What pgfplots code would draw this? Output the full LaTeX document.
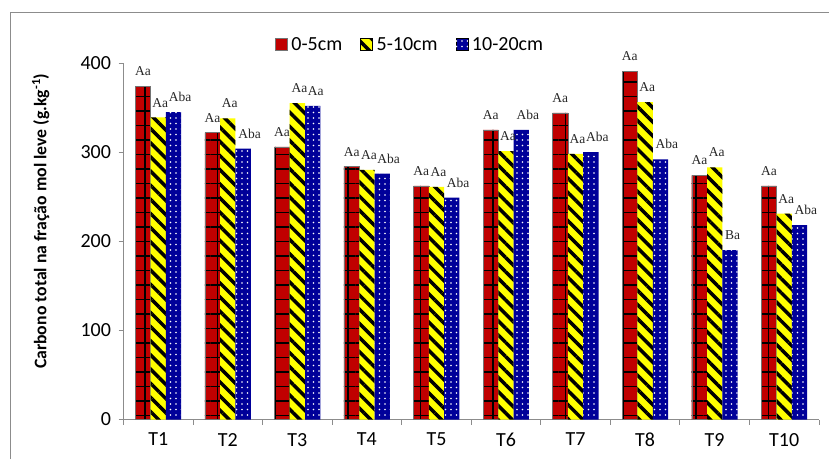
\documentclass[border=0pt]{standalone}
\usepackage{pgfplots}
\pgfplotsset{compat=1.18}
\usepackage{fontspec}
\setmainfont{Carlito}
\newfontfamily\serif{Liberation Serif}
\usetikzlibrary{patterns.meta}

\definecolor{cred}{HTML}{C00000}
\definecolor{cyel}{HTML}{FFFF00}
\definecolor{cblue}{HTML}{000099}
\definecolor{axgray}{HTML}{8C8C8C}

\begin{document}
\begin{tikzpicture}
    \useasboundingbox (0,0) rectangle (829pt,459pt);
    % chart area border (left and top only visible)
    \draw[axgray, line width=0.9pt] (10pt,0) -- (10pt,447pt) -- (829pt,447pt);
    \begin{axis}[
            at={(123.5pt,39.5pt)}, anchor=south west,
            scale only axis,
            width=695.5pt, height=356.5pt,
            ybar=0pt, bar width=15.3pt,
            xmin=0.5, xmax=10.5,
            ymin=0, ymax=400,
            axis x line*=bottom,
            axis y line*=left,
            axis line style={axgray, line width=0.9pt},
            tick style={axgray, line width=0.9pt},
            tick align=outside,
            xtick={1,...,10},
            xticklabels={T1,T2,T3,T4,T5,T6,T7,T8,T9,T10},
            minor xtick={0.5,1.5,...,10.5},
            major x tick style={draw=none},
            minor tick length=5pt,
            ytick={0,100,...,400},
            major tick length=5pt,
            /pgf/number format/assume math mode=true,
            tick label style={font=\fontsize{20}{24}\selectfont},
            xticklabel style={yshift=-5pt},
            yticklabel style={xshift=-4pt},
            ylabel={\bfseries Carbono total na fração mol leve (g.kg\textsuperscript{-1})},
            ylabel style={font=\fontsize{17.7}{20}\selectfont, at={(axis description cs:-0.119,0.556)}, anchor=center},
            nodes near coords,
            point meta=explicit symbolic,
            nodes near coords style={font=\serif\fontsize{13.5}{14}\selectfont, text=black!85, anchor=south, inner sep=0pt, yshift=10pt},
            legend style={draw=none, fill=none, at={(0.412,1.02)}, anchor=south,
                font=\fontsize{20}{24}\selectfont,
                /tikz/every odd column/.append style={column sep=2pt},
                /tikz/every even column/.append style={column sep=16pt}},
            legend columns=-1,
            mylegend/.style={legend image code/.code={\draw[##1] (0pt,-6pt) rectangle (12pt,6pt);}},
        ]
        \addplot[fill=cred, draw=black!55, line width=0.4pt, mylegend,
            postaction={pattern={Hatch[angle=0,distance=14.5pt,line width=1.7pt]}, pattern color=black}]
        coordinates {
                (1,374)[Aa] (2,322)[Aa] (3,306)[Aa] (4,284)[Aa] (5,262)[Aa]
                (6,325)[Aa] (7,344)[Aa] (8,391)[Aa] (9,274)[Aa] (10,262)[Aa]
            };
        \addplot[fill=cyel, draw=none, mylegend,
            nodes near coords style={xshift=2pt},
            postaction={pattern={Lines[angle=-45,distance=10pt,line width=3.5pt]}, pattern color=black}]
        coordinates {
                (1,339)[Aa] (2,338)[Aa] (3,355)[Aa] (4,280)[Aa] (5,261)[Aa]
                (6,301)[Aa] (7,298)[Aa] (8,356)[Aa] (9,283)[Aa] (10,231)[Aa]
            };
        \addplot[fill=cblue, draw=none, mylegend,
            nodes near coords style={anchor=south west, xshift=-5pt},
            postaction={pattern={Dots[distance=5.5pt,radius=0.85pt]}, pattern color=white}]
        coordinates {
                (1,345)[Aba] (2,304)[Aba] (3,352)[Aa] (4,276)[Aba] (5,249)[Aba]
                (6,325)[Aba] (7,300)[Aba] (8,292)[Aba] (9,190)[Ba] (10,218)[Aba]
            };
        \legend{0-5cm,5-10cm,10-20cm}
    \end{axis}
\end{tikzpicture}
\end{document}
